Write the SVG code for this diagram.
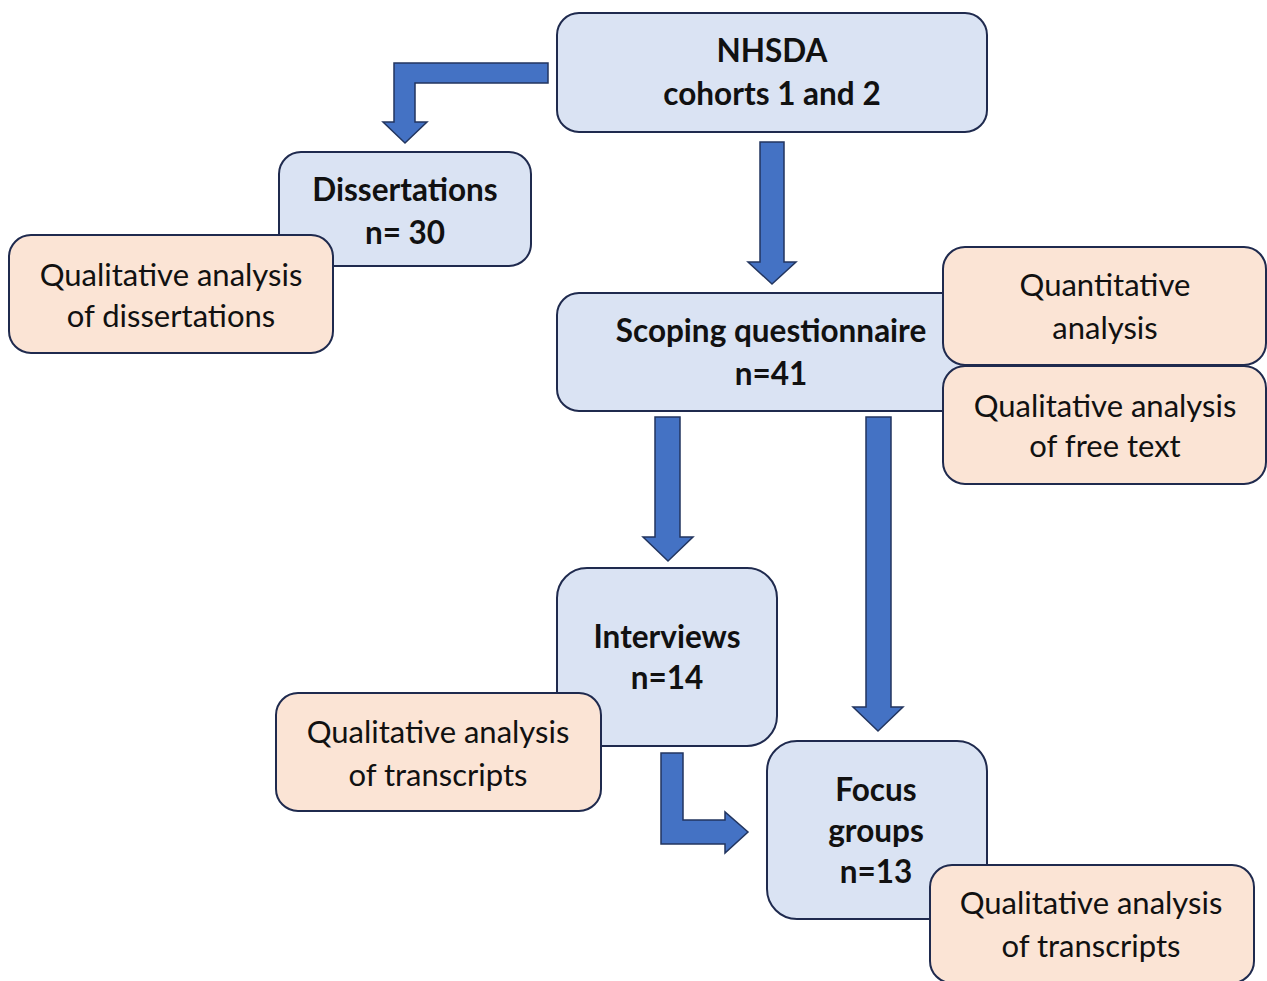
<svg xmlns="http://www.w3.org/2000/svg" width="1267" height="981" viewBox="0 0 1267 981">
<style>
.blue{fill:#DAE3F3;stroke:#1F2A4E;stroke-width:2}
.orange{fill:#FBE4D5;stroke:#1F2A4E;stroke-width:2}
.arr{fill:#4472C4;stroke:#22355F;stroke-width:1.5;stroke-linejoin:miter}
text{font-family:Lato,"Open Sans","Liberation Sans",sans-serif;font-size:31px;fill:#111;text-anchor:middle}
.b{font-weight:bold;font-size:31.5px}
</style>
<rect width="1267" height="981" fill="#fff"/>
<g id="connectors">
<path class="arr" d="M548,63 L394,63 L394,122 L383,122 L405,143 L427,122 L415,122 L415,83 L548,83 Z"/>
<path class="arr" d="M760,142 L784,142 L784,262 L796,262 L772,284 L748,262 L760,262 Z"/>
<path class="arr" d="M655,417 L680,417 L680,537 L693,537 L668,561 L643,537 L655,537 Z"/>
<path class="arr" d="M866,417 L891,417 L891,707 L903,707 L878,731 L853,707 L866,707 Z"/>
<path class="arr" d="M661,753 L683,753 L683,820 L725,820 L725,812 L748,832 L725,853 L725,844 L661,844 Z"/>
</g>
<g id="nhsda">
<rect class="blue" x="557" y="13" width="430" height="119" rx="22"/>
<text class="b" x="772" y="62">NHSDA</text>
<text class="b" x="772" y="105">cohorts 1 and 2</text>
</g>
<g id="dissertations">
<rect class="blue" x="279" y="152" width="252" height="114" rx="22"/>
<text class="b" x="405" y="201">Dissertations</text>
<text class="b" x="405" y="244">n= 30</text>
</g>
<g id="qual-dissertations">
<rect class="orange" x="9" y="235" width="324" height="118" rx="22"/>
<text x="171" y="286">Qualitative analysis</text>
<text x="171" y="327">of dissertations</text>
</g>
<g id="scoping">
<rect class="blue" x="557" y="293" width="420" height="118" rx="22"/>
<text class="b" x="771" y="342">Scoping questionnaire</text>
<text class="b" x="771" y="385">n=41</text>
</g>
<g id="quantitative">
<rect class="orange" x="943" y="247" width="323" height="118" rx="22"/>
<text x="1105" y="296">Quantitative</text>
<text x="1105" y="339">analysis</text>
</g>
<g id="qual-freetext">
<rect class="orange" x="943" y="366" width="323" height="118" rx="22"/>
<text x="1105" y="417">Qualitative analysis</text>
<text x="1105" y="457">of free text</text>
</g>
<g id="interviews">
<rect class="blue" x="557" y="568" width="220" height="178" rx="30"/>
<text class="b" x="667" y="648">Interviews</text>
<text class="b" x="667" y="689">n=14</text>
</g>
<g id="qual-transcripts-1">
<rect class="orange" x="276" y="693" width="325" height="118" rx="22"/>
<text x="438" y="743">Qualitative analysis</text>
<text x="438" y="786">of transcripts</text>
</g>
<g id="focus-groups">
<rect class="blue" x="767" y="741" width="220" height="178" rx="30"/>
<text class="b" x="876" y="801">Focus</text>
<text class="b" x="876" y="842">groups</text>
<text class="b" x="876" y="883">n=13</text>
</g>
<g id="qual-transcripts-2">
<rect class="orange" x="930" y="865" width="324" height="118" rx="22"/>
<text x="1091" y="914">Qualitative analysis</text>
<text x="1091" y="957">of transcripts</text>
</g>
</svg>
